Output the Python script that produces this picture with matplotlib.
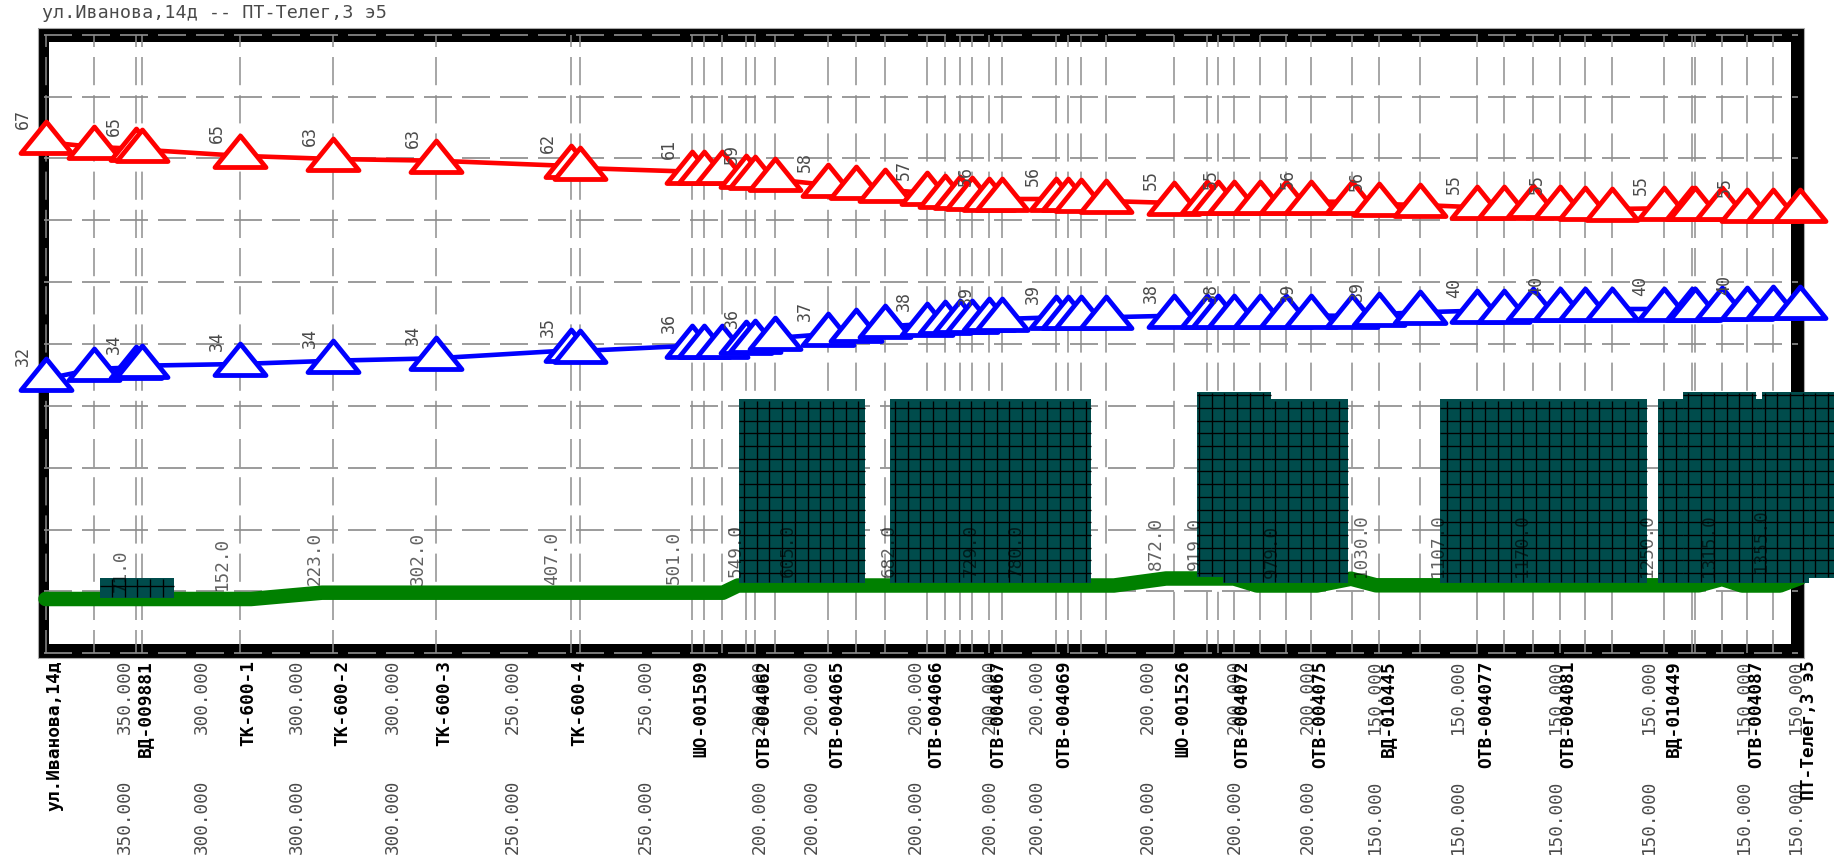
import numpy as np
import matplotlib
matplotlib.use("Agg")
import matplotlib.pyplot as plt
from matplotlib.markers import MarkerStyle
from matplotlib.path import Path

plt.rcParams['lines.scale_dashes'] = False
PT = 0.72  # one picture pixel in points at dpi 100

title = "ул.Иванова,14д -- ПТ-Телег,3 э5"

# the chart is a screen capture, so everything is read in its own pixel scale
station_x = [45.5, 93.7, 136.4, 142.3, 239.6, 333.3, 435.7, 570.6, 579.7, 692,
             704.2, 721.6, 745.7, 755.2, 775.4, 828, 856, 884.5, 927.2, 944.6,
             960, 971.5, 989.3, 1001.6, 1055.7, 1068, 1080.6, 1106, 1174, 1207,
             1218, 1233.7, 1260.3, 1285.8, 1311.2, 1352.3, 1379.4, 1420, 1477.2, 1504.3,
             1532.5, 1559.5, 1584.5, 1611.5, 1663.6, 1692.3, 1695.2, 1722, 1747.4, 1772.9,
             1799.5]
red_y = [142, 147, 148.7, 149.7, 155.8, 159, 160.7, 166, 168, 171.7,
         172, 172.3, 175.7, 177.3, 179.5, 185, 187.3, 189.7, 193, 196.3,
         197.3, 198.3, 199, 199, 199, 199, 200, 201, 203, 202.3,
         202.3, 202.3, 202.3, 201.7, 201.7, 201.7, 204, 205, 207.3, 207.3,
         206.3, 207.3, 208.3, 209, 208.3, 208.3, 208.3, 208.3, 209.7, 209.7,
         209.7]
blue_y = [379, 369, 367.3, 365.7, 364, 360.7, 358.3, 350.3, 351, 345.7,
          345.7, 345.7, 342.3, 340.7, 338, 334, 329.7, 326.3, 324, 322.3,
          320.7, 320.7, 319, 319, 317.3, 317.3, 317.3, 317.3, 315.7, 315.7,
          315.7, 315.7, 315.7, 315.7, 315.7, 315.7, 314, 312.3, 310.7, 310.7,
          309, 309, 309, 309, 309, 309, 309, 308, 308, 307.3,
          307.3]

named_idx = [0, 2, 4, 5, 6, 7, 9, 13, 15, 18, 22, 24, 28, 31, 34, 36, 38, 41, 44, 48, 50]
station_names = ["ул.Иванова,14д", "ВД-009881", "ТК-600-1", "ТК-600-2", "ТК-600-3",
                 "ТК-600-4", "ШО-001509", "ОТВ-004062", "ОТВ-004065", "ОТВ-004066",
                 "ОТВ-004067", "ОТВ-004069", "ШО-001526", "ОТВ-004072", "ОТВ-004075",
                 "ВД-010445", "ОТВ-004077", "ОТВ-004081", "ВД-010449", "ОТВ-004087",
                 "ПТ-Телег,3 э5"]
red_labels = [67, 65, 65, 63, 63, 62, 61, 59, 58, 57, 56, 56, 55, 55, 56, 56, 55, 55, 55, 55]
blue_labels = [32, 34, 34, 34, 34, 35, 36, 36, 37, 38, 39, 39, 38, 38, 39, 39, 40, 40, 40, 40]

dist_x = [120.6, 222, 315, 418, 552.4, 673.4, 736, 788, 889, 971, 1016,
          1155.8, 1194.6, 1271.7, 1361, 1438, 1521.7, 1646.7, 1709, 1761]
dist_bottom = [592, 590, 585, 585, 585, 584, 577, 577, 577, 577, 577,
               570, 570, 578, 577, 577, 577, 577, 577, 572]
dist_values = [71.0, 152.0, 223.0, 302.0, 407.0, 501.0, 549.0, 605.0, 682.0, 729.0, 780.0,
               872.0, 919.0, 979.0, 1030.0, 1107.0, 1170.0, 1250.0, 1315.0, 1355.0]

pipe_x = [124.6, 201.7, 296.6, 392.6, 512.8, 645.7, 759.6, 811.8, 915.8, 989.7,
          1037, 1147.9, 1234.5, 1308, 1374.7, 1457.7, 1555.6, 1648.7, 1743.9, 1796.4]
pipe_diam = [350, 300, 300, 300, 250, 250, 200, 200, 200, 200,
             200, 200, 200, 200, 150, 150, 150, 150, 150, 150]

ground_x = [45.5, 251, 322, 723, 738, 1114, 1166, 1234, 1257, 1317, 1351, 1376, 1699, 1722, 1742, 1780, 1800]
ground_y = [599, 599, 592.7, 592.7, 585.5, 585.5, 578.5, 578.5, 585.5, 585.5, 578.7, 585.3, 585.3, 579, 585.5, 585.5, 578]

# left, right, top, bottom of the dark bars
bar_left = [100, 738.7, 890.3, 1196.7, 1223, 1270.8, 1440, 1657.5, 1683.3, 1756, 1762, 1809]
bar_right = [174.4, 865, 1090.7, 1223, 1270.8, 1348.3, 1646.7, 1683.3, 1756, 1762, 1809, 1834]
bar_top = [577.7, 399.3, 399.3, 391.7, 391.7, 399.3, 399.3, 399.3, 391.7, 399.3, 391.7, 391.7]
bar_bottom = [598.3, 583.3, 583.3, 577, 583.3, 583.3, 583.3, 583.3, 583.3, 583.3, 583.3, 578]
hatch_start = [112, 744, 895, 1199, 1447, 1663]
hatch_end = [170, 862, 1088, 1346, 1644, 1834]

FRAME = (37.5, 1803.5, 28, 658)
BAND_X, BAND_Y = 11.5, 14
GRID_Y = np.linspace(34.7, 653.3, 11)
GRAY = "#8c8c8c"
TEXT = "#4a4a4a"
MONO = "DejaVu Sans Mono"

fig = plt.figure(figsize=(18.34, 8.63), dpi=100)
ax = fig.add_axes([0, 0, 1, 1])
ax.set_xlim(0, 1834)
ax.set_ylim(863, 0)
ax.axis("off")

ax.text(42.5, 13, title, family=MONO, fontsize=13.2, color=TEXT, va="center")

# thick frame
x0, x1, y0, y1 = FRAME
for bx, by, bw, bh in [(x0, y0, x1 - x0, BAND_Y), (x0, y1 - BAND_Y, x1 - x0, BAND_Y),
                       (x0, y0, BAND_X, y1 - y0), (x1 - BAND_X - 1, y0, BAND_X + 1, y1 - y0)]:
    ax.add_patch(plt.Rectangle((bx, by), bw, bh, fc="black", ec="none", zorder=1))
ax.add_patch(plt.Rectangle((x0, y0), x1 - x0, y1 - y0, fc="none", ec="#aaaaaa", lw=0.8, zorder=1))

# dashed grid, drawn over the frame
for y in GRID_Y:
    ax.plot([44, 1798], [y, y], color=GRAY, lw=1.7 * PT, zorder=2,
            linestyle=(0, (28 * PT, 10 * PT)))
for x in station_x[:-1]:
    ax.plot([x, x], [35, 653.3], color=GRAY, lw=1.5 * PT, zorder=2,
            linestyle=(16.2 * PT, (28.2 * PT, 10 * PT)))

# ground line under the bars
ax.plot(ground_x, ground_y, color="#008000", lw=14.5 * PT, solid_capstyle="round",
        solid_joinstyle="round", zorder=3)

ax.bar(bar_left, np.array(bar_bottom) - np.array(bar_top), width=np.array(bar_right) - np.array(bar_left),
       bottom=bar_top, align="edge", color="#004c4c", linewidth=0, zorder=4)

# translucent dark text, so that it still shows faintly on the bars
for x, yb, d in zip(dist_x, dist_bottom, dist_values):
    ax.text(x, yb, "%.1f" % d, rotation=90, ha="center", va="bottom", color="black", alpha=0.62,
            family=MONO, fontsize=12.7, zorder=4.5)

# black squares on the bars
hatch_y = np.arange(395.3, 590, 12.7)
for left, right, top, bottom in zip(bar_left, bar_right, bar_top, bar_bottom):
    for y in hatch_y:
        if top + 1 < y < bottom - 1:
            ax.plot([left, right], [y, y], color="black", lw=0.95, zorder=5, solid_capstyle="butt")
for start, end in zip(hatch_start, hatch_end):
    for x in np.arange(start, end, 12.7):
        i = int(np.searchsorted(bar_right, x))
        ax.plot([x, x], [bar_top[i] + 1.5, bar_bottom[i] - 1.5], color="black", lw=0.95, zorder=5,
                solid_capstyle="butt")

# head lines with open triangles
tri = Path([(-25.5, -11), (25.5, -11), (0, 20.5), (-25.5, -11)], closed=True)
marker = MarkerStyle(tri, joinstyle="round")
for ys, col in [(red_y, "#ff0000"), (blue_y, "#0000ff")]:
    ax.plot(station_x, ys, color=col, lw=4.6 * PT, zorder=6)
    ax.plot(station_x, ys, linestyle="none", marker=marker, ms=51 * PT, mfc="white", mec=col,
            mew=4.8 * PT, zorder=6.5)

for i, r, b in zip(named_idx, red_labels, blue_labels):
    for val, ys in [(r, red_y), (b, blue_y)]:
        ax.text(station_x[i] - 23, ys[i] - 13, str(val), rotation=90, ha="center", va="bottom",
                color=TEXT, family=MONO, fontsize=12, zorder=7)

# station names and pipe diameters below the frame
for x, d in zip(pipe_x, pipe_diam):
    for top in [660, 780]:
        ax.text(x, top, "%.3f" % d, rotation=90, ha="center", va="top", color=TEXT,
                family=MONO, fontsize=12.7, zorder=7)
for i, name in zip(named_idx, station_names):
    ax.text(station_x[i] + 9, 660, name, rotation=90, ha="center", va="top", color="black",
            family=MONO, fontweight="bold", fontsize=12.9, zorder=8)

fig.savefig("out.png", dpi=100)
